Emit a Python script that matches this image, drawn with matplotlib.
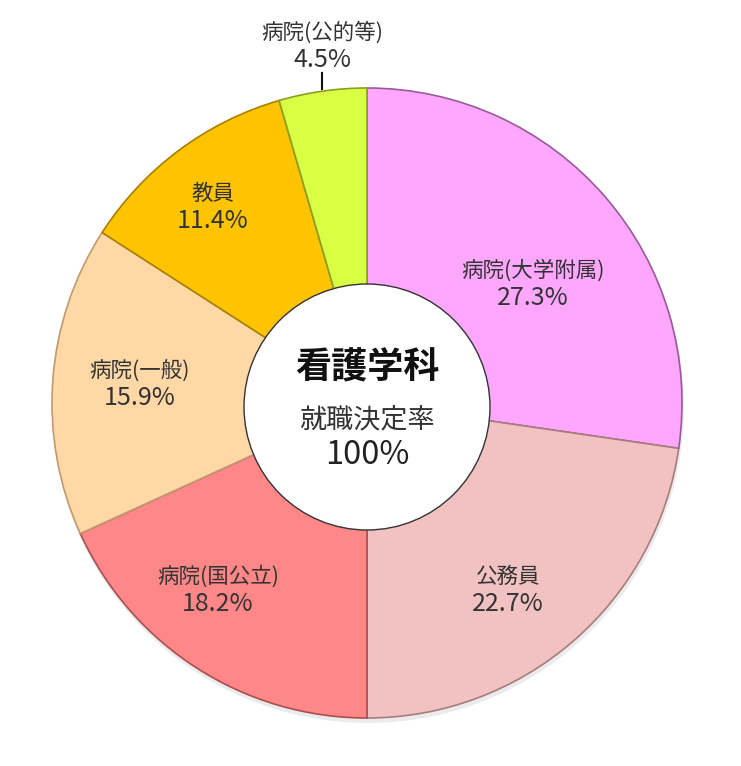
import matplotlib
matplotlib.use('Agg')
import matplotlib.pyplot as plt
from matplotlib.patches import Circle

plt.rcParams['font.family'] = ['Noto Sans CJK JP', 'DejaVu Sans']

# data
categories = ['病院(大学附属)', '公務員', '病院(国公立)', '病院(一般)', '教員', '病院(公的等)']
shares = [27.3, 22.7, 18.2, 15.9, 11.4, 4.5]
center_title = '看護学科'
center_sub = '就職決定率'
center_value = '100%'

# styles
colors = ['#FFA6FF', '#F2C2C2', '#FF8787', '#FFD8A6', '#FFC400', '#D9FF45']
edges = ['#9a5a9a', '#a87c7c', '#a85050', '#c09a70', '#a88000', '#8aa020']
# label anchor points in pixels (x, y from top)
label_px = [(533, 284), (508, 590), (218, 590), (140, 384), (213, 207), (322, 46)]

W, H = 741, 766
cx, cy, R = 367, 403, 315   # pie centre / radius in pixels (y from top)

fig = plt.figure(figsize=(W / 100, H / 100), dpi=100)
ax = fig.add_axes([0, 0, 1, 1])

# soft shadow under the pie
ax.add_patch(Circle((cx + 1, H - cy - 4), R + 1, color='#000000', alpha=0.08, lw=0, zorder=0))

wedges, _ = ax.pie(shares, colors=colors, startangle=90, counterclock=False,
                   center=(cx, H - cy), radius=R,
                   wedgeprops=dict(linewidth=1.2))
for w, ec in zip(wedges, edges):
    w.set_edgecolor(ec)
    w.set_zorder(1)

# light bevel just inside each slice edge
bevel, _ = ax.pie(shares, colors=colors, startangle=90, counterclock=False,
                  center=(cx, H - cy), radius=R - 3,
                  wedgeprops=dict(linewidth=2.5, edgecolor='white', alpha=0.0))
for b in bevel:
    b.set_facecolor('none')
    b.set_edgecolor((1, 1, 1, 0.35))
    b.set_zorder(2)

# white centre disc
ax.add_patch(Circle((cx, H - cy - 4), 123, facecolor='white', edgecolor='#333333', lw=1.0, zorder=3))
ax.text(cx, H - 368, center_title, ha='center', va='center', fontsize=26,
        fontweight='bold', color='#111111', zorder=4)
ax.text(cx, H - 420, center_sub, ha='center', va='center', fontsize=19.5,
        color='#333333', zorder=4)
ax.text(cx, H - 455, center_value, ha='center', va='center', fontsize=23.5,
        color='#222222', zorder=4)

for name, val, (x, y) in zip(categories, shares, label_px):
    ax.text(x, H - y + 13, name, ha='center', va='center', fontsize=15.5,
            color='#333333', zorder=4)
    ax.text(x, H - y - 14, f'{val}%', ha='center', va='center', fontsize=18,
            color='#333333', zorder=4)

# leader line for the small slice
ax.plot([322, 322], [H - 73, H - 89], color='#111111', lw=1.5, zorder=4)

ax.set_xlim(0, W)
ax.set_ylim(0, H)
ax.set_aspect('equal')
ax.axis('off')

fig.savefig('out.png', dpi=100, facecolor='white')
